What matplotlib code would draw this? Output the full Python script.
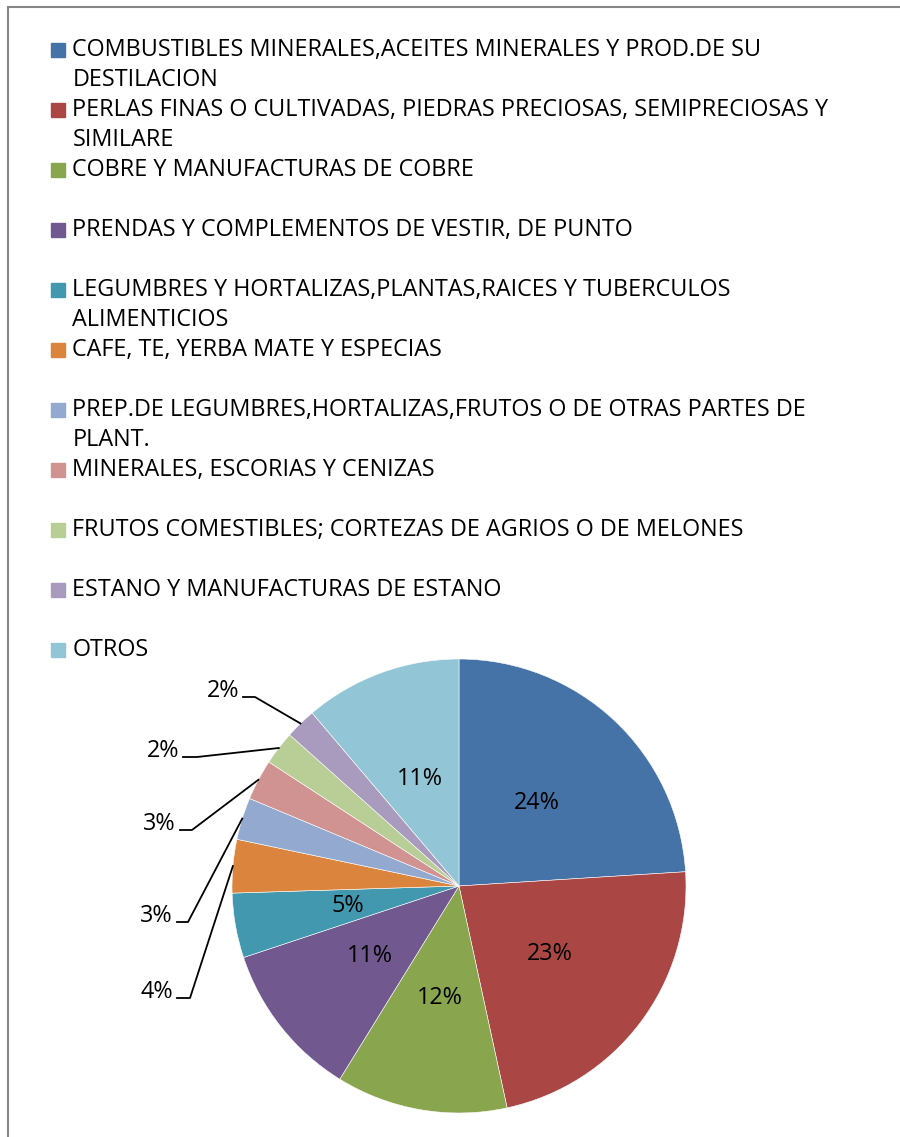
import numpy as np
import matplotlib.pyplot as plt
from matplotlib.patches import Rectangle

plt.rcParams['font.family'] = ['Open Sans', 'DejaVu Sans']

categories = [
    "COMBUSTIBLES MINERALES,ACEITES MINERALES Y PROD.DE SU\nDESTILACION",
    "PERLAS FINAS O CULTIVADAS, PIEDRAS PRECIOSAS, SEMIPRECIOSAS Y\nSIMILARE",
    "COBRE Y MANUFACTURAS DE COBRE",
    "PRENDAS Y COMPLEMENTOS DE VESTIR, DE PUNTO",
    "LEGUMBRES Y HORTALIZAS,PLANTAS,RAICES Y TUBERCULOS\nALIMENTICIOS",
    "CAFE, TE, YERBA MATE Y ESPECIAS",
    "PREP.DE LEGUMBRES,HORTALIZAS,FRUTOS O DE OTRAS PARTES DE\nPLANT.",
    "MINERALES, ESCORIAS Y CENIZAS",
    "FRUTOS COMESTIBLES; CORTEZAS DE AGRIOS O DE MELONES",
    "ESTANO Y MANUFACTURAS DE ESTANO",
    "OTROS",
]
shares = [24.0, 22.6, 12.2, 11.1, 4.6, 3.8, 3.0, 2.9, 2.4, 2.2, 11.2]
colors = ["#4572A7", "#AA4643", "#89A54E", "#71588F", "#4198AF", "#DB843D",
          "#93A9CF", "#D19392", "#B9CD96", "#A99BBD", "#92C5D6"]

W, H = 900, 1137
fig = plt.figure(figsize=(W / 100, H / 100), dpi=100)

def fx(px):
    return px / W

def fy(py):
    return 1 - py / H

# chart border (cut off at right and bottom)
fig.patches.append(Rectangle((fx(8), fy(H + 20)), 1.2, fy(7) - fy(H + 20),
                             transform=fig.transFigure, fill=False,
                             edgecolor="#868686", linewidth=1.5))

# legend drawn by hand so the marker sits on the first line
fs = 16.8
for i, (lab, c) in enumerate(zip(categories, colors)):
    y0 = 50 + 60 * i
    fig.patches.append(Rectangle((fx(51), fy(y0 + 7)), 14 / W, 14 / H,
                                 transform=fig.transFigure, color=c))
    for j, line in enumerate(lab.split("\n")):
        fig.text(fx(72.5), fy(y0 + 30 * j), line, fontsize=fs,
                 va="center", ha="left", color="#000000")

# pie
cx, cy, R = 459, 886, 227
ax = fig.add_axes([fx(cx - R), fy(cy + R), 2 * R / W, 2 * R / H])
wedges, _ = ax.pie(shares, colors=colors, startangle=90, counterclock=False,
                   radius=1, wedgeprops=dict(edgecolor="white", linewidth=0.4))
ax.set_xlim(-1, 1)
ax.set_ylim(-1, 1)
ax.axis("off")

pct = [f"{round(s):.0f}%" for s in shares]
outside = {5: (190, 998), 6: (188, 922), 7: (192, 830), 8: (197, 757), 9: (255, 697)}
outside_start = {5: 177, 6: 177, 7: 180, 8: 183, 9: 243}

def to_data(px, py):
    return (px - cx) / R, (cy - py) / R

for i, w in enumerate(wedges):
    mid = np.deg2rad((w.theta1 + w.theta2) / 2)
    if i in outside:
        ex, ey = outside[i]
        x1, y1 = to_data(ex, ey)
        x0, _ = to_data(outside_start[i], ey)
        ax.plot([x0, x1, np.cos(mid)], [y1, y1, np.sin(mid)],
                color="black", linewidth=1.3, clip_on=False)
        tx, ty = to_data(outside_start[i] - 4, ey - 6)
        ax.text(tx, ty, pct[i], ha="right", va="center", fontsize=fs)
    else:
        r = 0.5
        ax.text(r * np.cos(mid), r * np.sin(mid), pct[i],
                ha="center", va="center", fontsize=fs)

fig.savefig("out.png", dpi=100, facecolor="white")
